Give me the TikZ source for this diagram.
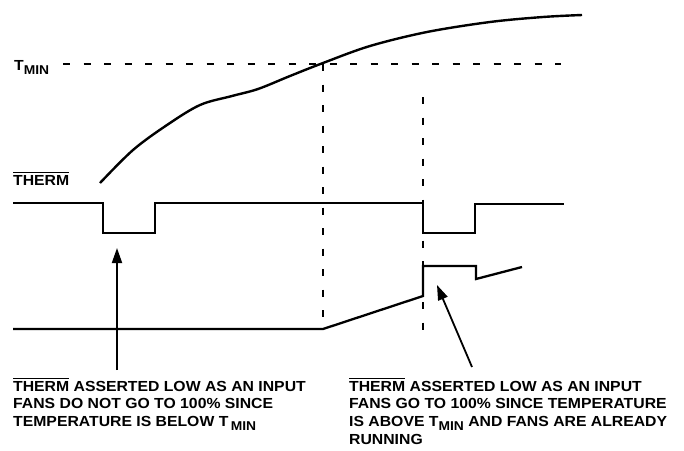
\documentclass[tikz,border=0pt]{standalone}
\usepackage{fontspec}
\setmainfont{Liberation Sans}
\newfontfamily\lblfont{Liberation Sans Bold}[FakeStretch=1.08]
\usetikzlibrary{arrows.meta}
\newcommand\ovl[1]{\setbox0\hbox{#1}\rlap{\rule[\dimexpr\ht0+2.4pt\relax]{\wd0}{1pt}}\box0}
\newcommand\lowmin{\raisebox{-4pt}{\fontsize{12.8}{12.8}\selectfont MIN}}
\tikzset{
  sig/.style={line width=2.3pt, line join=miter},
  dsh/.style={line width=2.2pt, dash pattern=on 7pt off 13.5pt},
  lbl/.style={inner sep=0pt, font=\lblfont\fontsize{14.6}{17.8}\selectfont, align=left},
  arr/.style={line width=1.8pt, -{Triangle[length=15pt,width=10pt]}}
}
\begin{document}
\begin{tikzpicture}[x=1pt,y=-1pt]
\useasboundingbox (0,0) rectangle (684,450);
% labels
\node[lbl, anchor=base west] (tmin) at (14,70.5) {T\lowmin};
\node[lbl, anchor=base west] (therm) at (13,185) {\ovl{THERM}};
% threshold dashed line
\coordinate (d1s) at (63,64);
\coordinate (d1e) at (561,64);
\draw[dsh] (d1s) -- (d1e);
% vertical dashed lines
\coordinate (v1t) at (323,64);
\coordinate (v1b) at (323,329);
\draw[dsh] (v1t) -- (v1b);
\coordinate (v2t) at (423,97);
\coordinate (v2b) at (423,334);
\draw[dsh] (v2t) -- (v2b);
% temperature curve
\draw[sig, line width=2.4pt] plot[smooth, tension=0.55] coordinates {(100,183) (133,150) (167,125) (200,105) (232,96) (258,89) (290,76) (323,63) (370,46) (427,32) (490,22) (543,17) (582,15)};
% THERM signal
\draw[sig] (13,203) -- (103,203) -- (103,233) -- (155,233) -- (155,203) -- (423,203) -- (423,233) -- (475,233) -- (475,204) -- (564,204);
% fan signal
\draw[sig] (13,329) -- (323,329) -- (423,296) -- (423,266) -- (476,266) -- (476,279) -- (522,267);
% text blocks
\node[lbl, anchor=north west] (t1) at (13,377.5) {\ovl{THERM}\ ASSERTED LOW AS AN INPUT\\FANS DO NOT GO TO 100\% SINCE\\TEMPERATURE IS BELOW T\,\lowmin};
\node[lbl, anchor=north west] (t2) at (349,377.5) {\ovl{THERM}\ ASSERTED LOW AS AN INPUT\\FANS GO TO 100\% SINCE TEMPERATURE\\IS ABOVE T\lowmin{} AND FANS ARE ALREADY\\RUNNING};
% arrows
\coordinate (a1s) at (117,370);
\coordinate (a1e) at (117,248);
\draw[arr] (a1s) -- (a1e);
\coordinate (a2s) at (472,367);
\coordinate (a2e) at (437,285);
\draw[arr] (a2s) -- (a2e);
\end{tikzpicture}
\end{document}
